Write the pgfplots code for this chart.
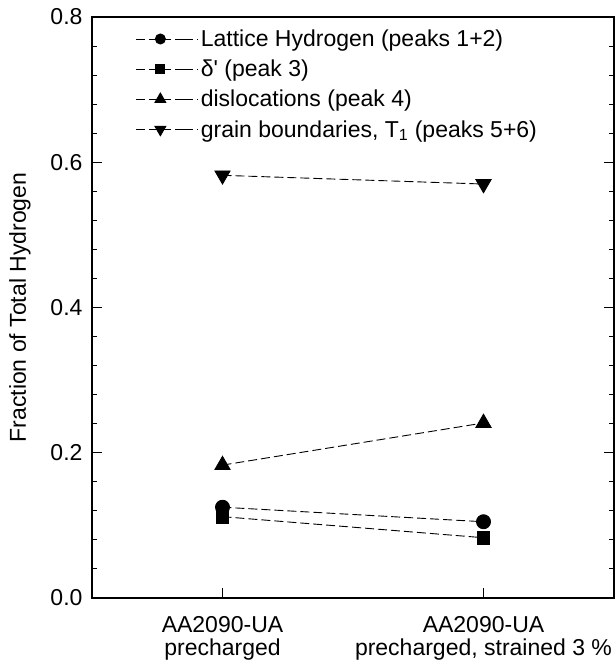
\documentclass[border=0pt]{standalone}
\usepackage{fontspec}
\setmainfont{Liberation Sans}
\usepackage{pgfplots}
\pgfplotsset{compat=1.18}
\begin{document}
\begin{tikzpicture}
\begin{axis}[name=ax,
  scale only axis, width=522pt, height=581pt,
  xmin=-0.5, xmax=1.5, ymin=0, ymax=0.8,
  xtick={0,1},
  xticklabels={{AA2090-UA\\precharged},{AA2090-UA\\precharged, strained 3 \%}},
  xticklabel style={align=center, font=\fontsize{23}{23}\selectfont, yshift=-15pt},
  ytick={0,0.2,0.4,0.6,0.8}, minor y tick num=4,
  yticklabel style={font=\fontsize{23}{23}\selectfont, xshift=-6pt, /pgf/number format/.cd, fixed, fixed zerofill, precision=1, assume math mode=true},
  tick align=inside, xtick pos=left, ytick pos=both,
  major tick length=10pt, minor tick length=5pt,
  axis line style={line width=1.1pt},
  every tick/.style={line width=1pt, black},
  ylabel={Fraction of Total Hydrogen},
  every axis y label/.style={at={(axis description cs:-0.138,0.5)}, rotate=90, anchor=center, font=\fontsize{23}{23}\selectfont},
  legend style={draw=none, fill=none, at={(0.078,0.985)}, anchor=north west, font=\fontsize{23}{23}\selectfont, row sep=8pt},
  legend cell align=left,
  legend image code/.code={\draw[mark repeat=2,mark phase=2,#1, every mark/.append style={scale=0.72}] plot coordinates {(0pt,0pt) (24pt,0pt) (48pt,0pt)}; \path (48pt,0pt) -- (62pt,0pt);},
  every axis plot/.append style={black, line width=0.9pt, dash pattern=on 9pt off 4pt, mark options={solid}},
]
\addplot[mark=*, mark size=7pt] coordinates {(0,0.125) (1,0.105)};
\addlegendentry{Lattice Hydrogen (peaks 1+2)}
\addplot[mark=square*, mark size=6.3pt] coordinates {(0,0.112) (1,0.083)};
\addlegendentry{δ\textquotesingle{} (peak 3)}
\addplot[mark=triangle*, mark size=8.7pt] coordinates {(0,0.183) (1,0.241)};
\addlegendentry{dislocations (peak 4)}
\addplot[mark=triangle*, mark size=8.7pt, mark options={solid, rotate=180}] coordinates {(0,0.582) (1,0.570)};
\addlegendentry{grain boundaries, T\textsubscript{1} (peaks 5+6)}
\end{axis}
\pgfresetboundingbox
\path[use as bounding box] ([xshift=-92pt,yshift=-62pt]ax.south west) rectangle ([xshift=1pt,yshift=17pt]ax.north east);
\end{tikzpicture}
\end{document}
